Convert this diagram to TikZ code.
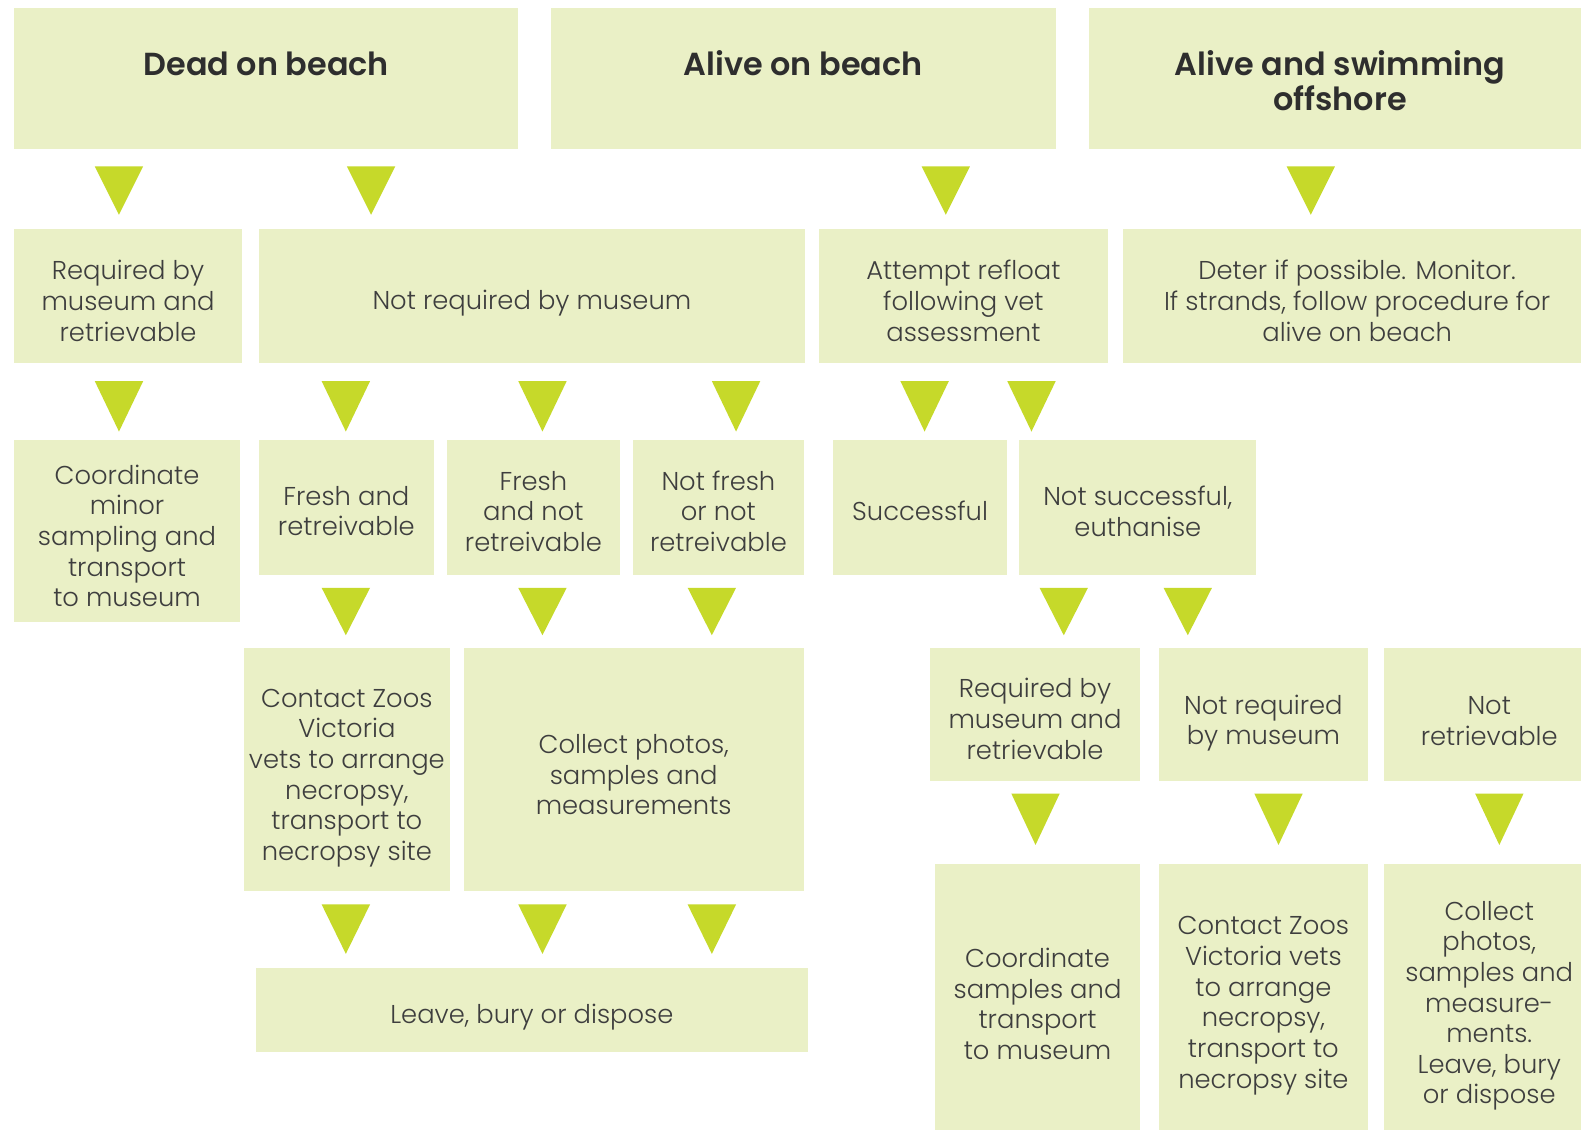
\documentclass[tikz,border=0pt]{standalone}
\usepackage{fontspec}
\setmainfont{Poppins}[UprightFont={* Light},BoldFont={* SemiBold}]
\definecolor{boxfill}{HTML}{EAF0C6}
\definecolor{tricol}{HTML}{C6D92A}
\definecolor{txt}{HTML}{3E3E3E}
\definecolor{head}{HTML}{2E2E2E}
\tikzset{
  box/.style={rectangle, inner sep=0pt, align=center, text=txt,
    font=\fontsize{12.8}{15.2}\selectfont},
  headbox/.style={box, text=head, font=\fontsize{15.8}{17}\selectfont\bfseries},
  boxbg/.style={fill=boxfill},
  arrowtri/.style={fill=tricol}
}
% [style]{name}{x1}{y1}{x2}{y2}{text shift}{text}
\newcommand\bx[8][box]{%
  \fill[boxbg] (#3,#4) rectangle (#5,#6);
  \node[#1] (#2) at ({(#3+#5)/2},{(#4+#6)/2+#7}) {#8};}
\newcommand\tri[3]{\fill[arrowtri] ({#1-24},#2) -- ({#1+24},#2) -- (#1,#3) -- cycle;}
\begin{document}
\begin{tikzpicture}[x=0.5pt,y=-0.5pt]
\useasboundingbox[fill=white] (0,0) rectangle (1568,1120);
% row 1
\bx[headbox]{dead}{14}{8}{514}{148}{2}{Dead on beach\\\phantom{offshore}}
\bx[headbox]{alive}{546}{8}{1047}{148}{2}{Alive on beach\\\phantom{offshore}}
\bx[headbox]{swim}{1080}{8}{1578}{148}{2}{Alive and swimming\\offshore}
\tri{118}{165}{213}
\tri{368}{165}{213}
\tri{938}{165}{213}
\tri{1300}{165}{213}
% row 2
\bx{req}{14}{227}{240}{360}{5}{Required by\\museum and\\retrievable}
\bx{notreq}{257}{227}{798}{360}{7}{Not required by museum}
\bx{refloat}{812}{227}{1099}{360}{5}{Attempt refloat\\following vet\\assessment}
\bx{deter}{1114}{227}{1578}{360}{5}{Deter if possible. Monitor.\\If strands, follow procedure for\\alive on beach}
\tri{118}{378}{428}
\tri{343}{378}{428}
\tri{538}{378}{428}
\tri{730}{378}{428}
\tri{917}{378}{428}
\tri{1023}{378}{428}
% row 3
\bx{coordmin}{14}{436}{238}{617}{5}{Coordinate\\minor\\sampling and\\transport\\to museum}
\bx{freshr}{257}{436}{430}{570}{4}{Fresh and\\retreivable}
\bx{freshnr}{443}{436}{615}{570}{4}{Fresh\\and not\\retreivable}
\bx{notfresh}{628}{436}{797}{570}{4}{Not fresh\\or not\\retreivable}
\bx{succ}{826}{436}{999}{570}{4}{Successful}
\bx{notsucc}{1011}{436}{1246}{570}{4}{Not successful,\\euthanise}
\tri{343}{583}{630}
\tri{538}{583}{630}
\tri{706}{583}{630}
\tri{1055}{583}{630}
\tri{1178}{583}{630}
% row 4 left
\bx{contact1}{242}{643}{446}{884}{8}{Contact Zoos\\Victoria\\vets to arrange\\necropsy,\\transport to\\necropsy site}
\bx{collect1}{460}{643}{797}{884}{5}{Collect photos,\\samples and\\measurements}
\tri{343}{897}{946}
\tri{538}{897}{946}
\tri{706}{897}{946}
\bx{leave}{254}{960}{801}{1043}{7}{Leave, bury or dispose}
% row 4 right
\bx{req2}{922}{643}{1131}{775}{4}{Required by\\museum and\\retrievable}
\bx{notreq2}{1149}{643}{1357}{775}{8}{Not required\\by museum}
\bx{notretr}{1373}{643}{1581}{775}{6}{Not\\retrievable}
\tri{1027}{787}{838}
\tri{1268}{787}{838}
\tri{1487}{787}{838}
\bx{coordsamp}{927}{857}{1131}{1122}{6}{Coordinate\\samples and\\transport\\to museum}
\bx{contact2}{1149}{857}{1357}{1122}{8}{Contact Zoos\\Victoria vets\\to arrange\\necropsy,\\transport to\\necropsy site}
\bx{collect2}{1373}{857}{1581}{1122}{8}{Collect\\photos,\\samples and\\measure-\\ments.\\Leave, bury\\or dispose}
\end{tikzpicture}
\end{document}
